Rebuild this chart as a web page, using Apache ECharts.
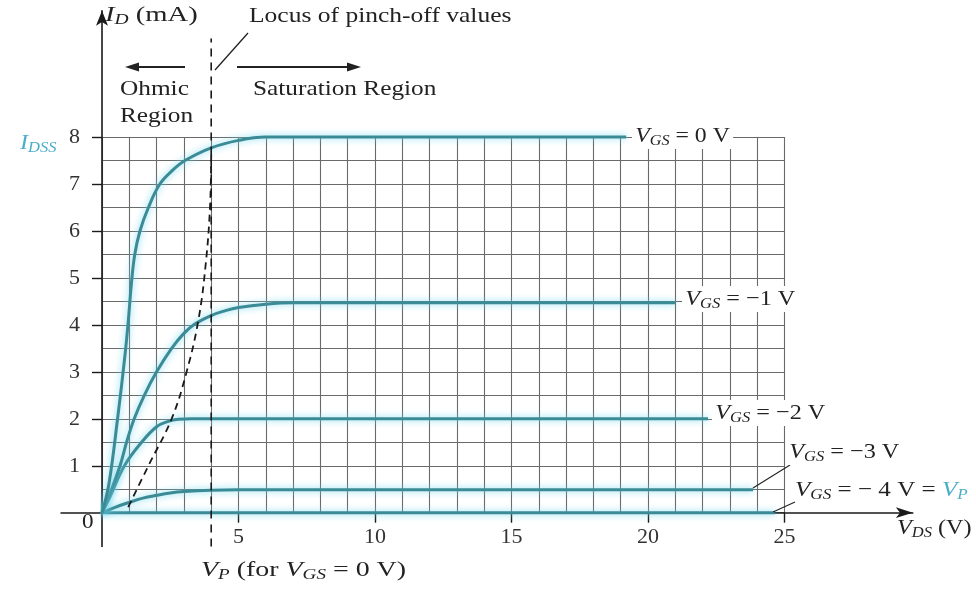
<!DOCTYPE html>
<html><head><meta charset="utf-8">
<script src="https://cdn.jsdelivr.net/npm/echarts@6/dist/echarts.min.js"></script>
<style>html,body{margin:0;padding:0;background:#fff}#c{width:976px;height:591px}</style>
</head><body><div id="c"></div>
<script>
// ---- data (V_DS in volts, I_D in mA) ----
const vdsGS0 = [0, 0.25, 0.57, 0.85, 0.98, 1.08, 1.2, 1.39, 1.7, 2.12, 2.6, 3.04, 4.0, 5.0, 6.0, 19.2];
const idGS0  = [0, 0.6, 2.0, 3.4, 4.2, 4.9, 5.5, 6.0, 6.5, 7.0, 7.3, 7.5, 7.77, 7.93, 8.0, 8.0];
const vdsGS1 = [0, 0.25, 0.66, 0.9, 1.18, 1.55, 2.0, 2.55, 3.0, 3.4, 4.0, 4.5, 5.0, 6.0, 7.0, 21.0];
const idGS1  = [0, 0.35, 1.0, 1.5, 2.0, 2.5, 3.0, 3.5, 3.82, 4.02, 4.2, 4.3, 4.37, 4.44, 4.47, 4.47];
const vdsGS2 = [0, 0.3, 0.82, 1.45, 2.0, 2.4, 2.8, 3.3, 22.2];
const idGS2  = [0, 0.35, 1.0, 1.5, 1.83, 1.94, 1.99, 2.0, 2.0];
const vdsGS3 = [0, 0.5, 1, 1.5, 2, 2.5, 3, 4, 5, 23.85];
const idGS3  = [0, 0.12, 0.22, 0.31, 0.37, 0.42, 0.45, 0.48, 0.49, 0.49];
const vdsGS4 = [0, 24.65];
const idGS4  = [0, 0];
const vdsLocus = [0.96, 1.7, 2.55, 3.1, 3.53, 3.8, 3.96, 4.0];
const idLocus  = [0.12, 1.0, 2.0, 3.0, 4.1, 5.3, 6.55, 7.7];
const vpX = [4, 4];
const vpY = [-0.72, 10.1];
const xTickLabels = [5, 10, 15, 20, 25];
const yTickLabels = [1, 2, 3, 4, 5, 6, 7, 8];

// ---- layout ----
const X0 = 102, PXV = 27.3, Y0 = 512.7, PYA = 46.95;
const gA = {left: X0, top: Y0 - 8 * PYA, width: 25 * PXV, height: 8 * PYA};
const bxMin = -1.5, bxMax = 29.7, byMin = -0.72, byMax = 10.69;
const gB = {left: X0 + bxMin * PXV, top: Y0 - byMax * PYA, width: (bxMax - bxMin) * PXV, height: (byMax - byMin) * PYA};

const zip = (a, b) => a.map((v, i) => [v, b[i]]);
const FONT = 'Liberation Serif';
const TEAL = '#3b8b97', LTEAL = '#4aaec6', INK = '#222';

const curveStyle = {color: TEAL, width: 3, shadowBlur: 7, shadowColor: 'rgba(110,215,238,0.95)'};
function curve(x, y) {
  return {type: 'line', xAxisIndex: 0, yAxisIndex: 0, data: zip(x, y), showSymbol: false, symbol: 'none',
    smooth: 0.4, clip: false, lineStyle: curveStyle, z: 5, silent: true};
}

function rich(color) {
  return {
    n: {fontFamily: FONT, fontSize: 22, fill: color || INK, lineHeight: 26},
    i: {fontFamily: FONT, fontSize: 22, fontStyle: 'italic', fill: color || INK, lineHeight: 26},
    s: {fontFamily: FONT, fontSize: 15, fontStyle: 'italic', fill: color || INK, verticalAlign: 'bottom', lineHeight: 15},
    ti: {fontFamily: FONT, fontSize: 22, fontStyle: 'italic', fill: LTEAL, lineHeight: 26},
    ts: {fontFamily: FONT, fontSize: 15, fontStyle: 'italic', fill: LTEAL, verticalAlign: 'bottom', lineHeight: 15}
  };
}
function txt(x, y, text, sx, bg) {
  const st = {text: text, rich: rich(), align: 'left', verticalAlign: 'middle'};
  if (bg) { st.backgroundColor = '#fff'; st.padding = [0, 3, 0, 3]; }
  return {type: 'text', x: x, y: y, scaleX: sx || 1.15, z: 20, style: st, silent: true};
}
function seg(x1, y1, x2, y2, w, dash) {
  return {type: 'line', z: 15, silent: true, shape: {x1, y1, x2, y2},
    style: {stroke: INK, lineWidth: w || 1.3, lineDash: dash || null}};
}
function head(tx, ty, dir) {
  const L = 14, H = 4.5;
  return {type: 'polygon', z: 15, silent: true,
    shape: {points: [[tx, ty], [tx - dir * L, ty - H], [tx - dir * L, ty + H]]}, style: {fill: INK}};
}
const gridLine = {show: true, lineStyle: {color: '#6a6a6a', width: 1.1}};
const off = {show: false};

const chart = echarts.init(document.getElementById('c'), null, {renderer: 'canvas'});
chart.setOption({
  backgroundColor: '#fff',
  animation: false,
  grid: [
    Object.assign({containLabel: false, outerBoundsMode: 'none'}, gA),
    Object.assign({containLabel: false, outerBoundsMode: 'none'}, gB),
    Object.assign({containLabel: false, outerBoundsMode: 'none'}, gA)
  ],
  xAxis: [
    {type: 'value', gridIndex: 0, min: 0, max: 25,
      axisLine: off,
      axisTick: {show: true, length: 10, customValues: xTickLabels, lineStyle: {color: '#1a1a1a', width: 1.4}},
      axisLabel: {show: true, customValues: xTickLabels, margin: 14, fontFamily: FONT, fontSize: 22, color: '#333'},
      splitLine: off},
    {type: 'value', gridIndex: 1, min: bxMin, max: bxMax,
      axisLine: {show: true, onZero: true, symbol: ['none', 'arrow'], symbolSize: [8, 17],
        lineStyle: {color: '#1a1a1a', width: 1.6}},
      axisTick: off, axisLabel: off, splitLine: off},
    {type: 'value', gridIndex: 2, min: 0, max: 25, interval: 1,
      axisLine: off, axisTick: off, axisLabel: off, splitLine: gridLine}
  ],
  yAxis: [
    {type: 'value', gridIndex: 0, min: 0, max: 8,
      axisLine: off,
      axisTick: {show: true, length: 10, customValues: yTickLabels, lineStyle: {color: '#1a1a1a', width: 1.4}},
      axisLabel: {show: true, customValues: yTickLabels, margin: 22, fontFamily: FONT, fontSize: 22, color: '#333'},
      splitLine: off},
    {type: 'value', gridIndex: 1, min: byMin, max: byMax,
      axisLine: {show: true, onZero: true, symbol: ['none', 'arrow'], symbolSize: [9, 15],
        lineStyle: {color: '#1a1a1a', width: 1.6}},
      axisTick: off, axisLabel: off, splitLine: off},
    {type: 'value', gridIndex: 2, min: 0, max: 8, interval: 0.5,
      axisLine: off, axisTick: off, axisLabel: off, splitLine: gridLine}
  ],
  series: [
    curve(vdsGS4, idGS4),
    curve(vdsGS3, idGS3),
    curve(vdsGS2, idGS2),
    curve(vdsGS1, idGS1),
    curve(vdsGS0, idGS0),
    {type: 'line', xAxisIndex: 0, yAxisIndex: 0, data: zip(vdsLocus, idLocus), showSymbol: false, symbol: 'none',
      smooth: 0.4, clip: false, z: 6, silent: true,
      lineStyle: {color: '#1a1a1a', width: 1.8, type: [7, 5]}},
    {type: 'line', xAxisIndex: 1, yAxisIndex: 1, data: zip(vpX, vpY), showSymbol: false, symbol: 'none',
      clip: false, z: 6, silent: true, lineStyle: {color: '#1a1a1a', width: 1.6, type: [8, 6]}}
  ],
  graphic: [
    txt(105, 15, '{i|I}{s|D}{n| (mA)}', 1.3),
    txt(249, 16, '{n|Locus of pinch-off values}', 1.16),
    seg(248, 33, 215, 70),
    seg(185, 67, 135, 67, 2.2), head(125, 67, -1),
    seg(237, 67, 350, 67, 2.2), head(361, 67, 1),
    txt(120, 89, '{n|Ohmic}', 1.15),
    txt(120, 116, '{n|Region}', 1.15),
    txt(253, 89, '{n|Saturation Region}', 1.15),
    {type: 'text', x: 20, y: 143, scaleX: 1.1, z: 20, silent: true,
      style: {text: '{ti|I}{ts|DSS}', rich: rich(), align: 'left', verticalAlign: 'middle'}},
    txt(632, 136, '{i|V}{s|GS}{n| = 0 V}', 1.08, true),
    txt(682, 299, '{i|V}{s|GS}{n| = −1 V}', 1.1, true),
    txt(712, 413, '{i|V}{s|GS}{n| = −2 V}', 1.1, true),
    txt(786, 452, '{i|V}{s|GS}{n| = −3 V}', 1.1, true),
    seg(753, 488, 790, 465, 1.1),
    txt(795, 490, '{i|V}{s|GS}{n| = − 4 V = }{ti|V}{ts|P}', 1.14, false),
    seg(773, 512, 795, 502, 1.1),
    txt(897, 528, '{i|V}{s|DS}{n| (V)}', 1.1),
    txt(82, 522, '{n|0}', 1.05),
    txt(201, 570, '{i|V}{s|P}{n| (for }{i|V}{s|GS}{n| = 0 V)}', 1.27)
  ]
});
</script>
</body></html>
